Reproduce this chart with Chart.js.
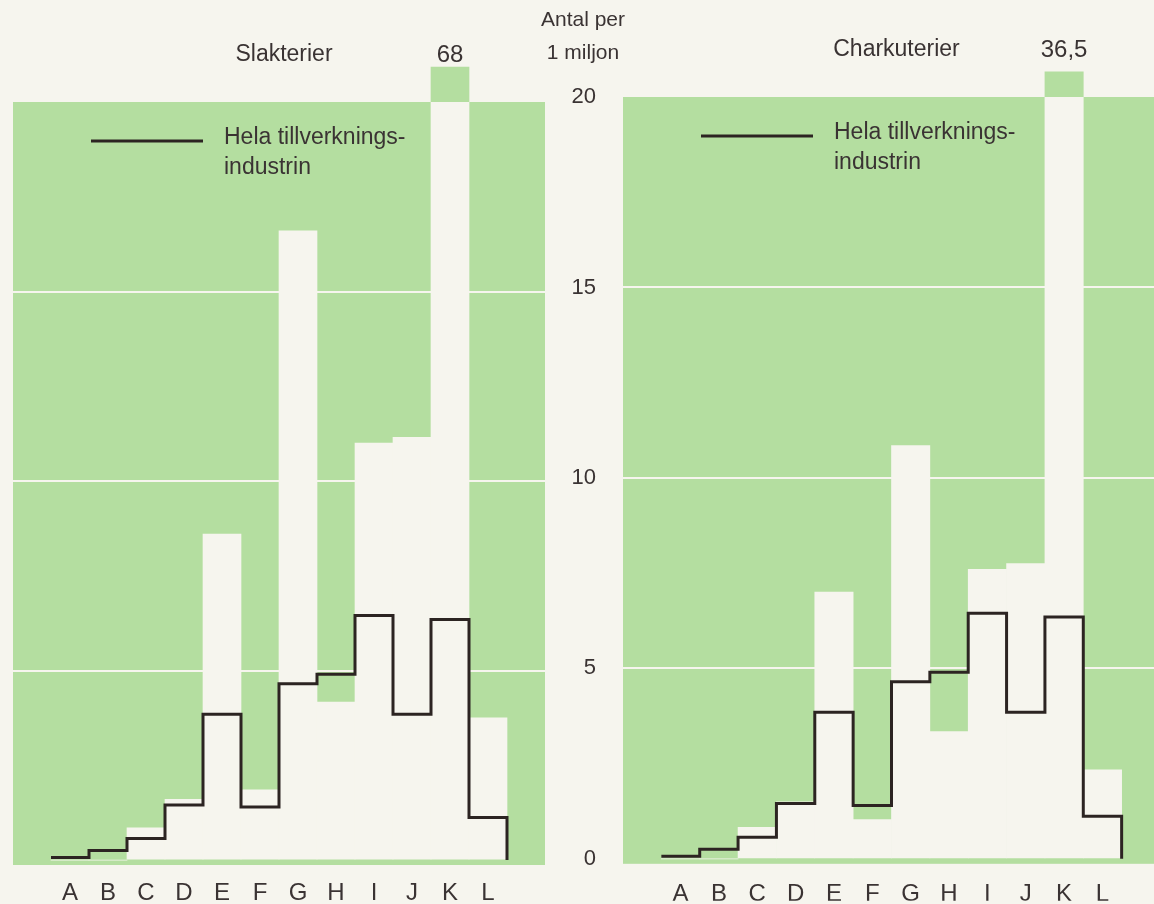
<!DOCTYPE html>
<html lang="sv">
<head>
  <meta charset="UTF-8">
  <title>Slakterier och charkuterier</title>
  <style>
    html, body {
      margin: 0;
      padding: 0;
      background: #f6f5ee;
      overflow: hidden;
    }
    body {
      width: 1154px;
      height: 904px;
      position: relative;
    }
    canvas { position: absolute; top: 0; }
    #leftChart { left: 0; }
    #rightChart { left: 530px; }
  </style>
</head>
<body>
  <canvas id="leftChart" width="560" height="904"></canvas>
  <canvas id="rightChart" width="630" height="904"></canvas>

  <script src="https://cdn.jsdelivr.net/npm/chart.js@4"></script>
  <script>
    // Data (antal per 1 miljon)
    const categories = ['A', 'B', 'C', 'D', 'E', 'F', 'G', 'H', 'I', 'J', 'K', 'L'];
    const slakterier = [0, 0, 0.85, 1.6, 8.6, 1.85, 16.6, 4.17, 11.0, 11.15, 68, 3.75];
    const charkuterier = [0, 0, 0.83, 1.5, 7.0, 1.03, 10.85, 3.34, 7.6, 7.75, 36.5, 2.34];
    const helaIndustrin = [0.07, 0.25, 0.57, 1.45, 3.85, 1.4, 4.65, 4.9, 6.45, 3.85, 6.35, 1.12];
    const yTicks = [0, 5, 10, 15, 20];
    const legendLines = ['Hela tillverknings-', 'industrin'];
    const axisTitle = ['Antal per', '1 miljon'];

    const Y_MIN = -0.13;
    const Y_MAX = 20;

    const paper = '#f6f5ee';
    const green = '#b4dea0';
    const ink = '#3a3333';
    const lineInk = '#2c2422';
    const FONT = '"Liberation Sans", Arial, sans-serif';

    // green panel behind everything, texts on top
    const panelPlugin = {
      id: 'panel',
      beforeDraw(chart) {
        const { ctx, chartArea: a } = chart;
        ctx.save();
        ctx.fillStyle = green;
        ctx.fillRect(a.left, a.top, a.right - a.left, a.bottom - a.top);
        ctx.restore();
      },
      afterDraw(chart, args, opts) {
        const { ctx, chartArea: a } = chart;
        const x = chart.scales.x;
        ctx.save();
        ctx.fillStyle = ink;
        ctx.textBaseline = 'middle';

        // panel title
        ctx.font = `23px ${FONT}`;
        ctx.textAlign = 'center';
        ctx.fillText(opts.title, (a.left + a.right) / 2 + 5, a.top - 47);

        // values that run off the top of the scale
        ctx.font = `24px ${FONT}`;
        opts.values.forEach((v, i) => {
          if (v > Y_MAX) {
            ctx.fillText(String(v).replace('.', ','), x.getPixelForValue(i), a.top - 47);
          }
        });

        // legend inside the panel
        ctx.strokeStyle = lineInk;
        ctx.lineWidth = 3;
        ctx.beginPath();
        ctx.moveTo(a.left + 78, a.top + 39);
        ctx.lineTo(a.left + 190, a.top + 39);
        ctx.stroke();
        ctx.font = `23px ${FONT}`;
        ctx.textAlign = 'left';
        ctx.fillText(legendLines[0], a.left + 211, a.top + 36);
        ctx.fillText(legendLines[1], a.left + 211, a.top + 66);

        // y axis title (only on the right chart)
        if (opts.axisTitle) {
          ctx.font = `21px ${FONT}`;
          ctx.textAlign = 'center';
          ctx.fillText(axisTitle[0], a.left - 40, 20);
          ctx.fillText(axisTitle[1], a.left - 40, 53);
        }
        ctx.restore();
      }
    };

    function makeChart(id, values, title, opts) {
      const barData = values.map((v, i) => ({ x: i, y: v }));
      const stubData = values
        .map((v, i) => (v > Y_MAX ? { x: i, y: [Y_MAX, Y_MAX + opts.stub] } : null))
        .filter(Boolean);
      // step line: each point starts a category, then drop to zero at the end
      const stepData = helaIndustrin.map((v, i) => ({ x: i - 0.5, y: v }));
      stepData.push({ x: categories.length - 0.5, y: 0 });

      return new Chart(document.getElementById(id), {
        data: {
          datasets: [
            {
              type: 'line',
              label: 'Hela tillverkningsindustrin',
              data: stepData,
              stepped: 'before',
              borderColor: lineInk,
              borderWidth: 3,
              pointRadius: 0,
              fill: false,
              order: 0
            },
            {
              type: 'bar',
              label: title,
              data: barData,
              backgroundColor: paper,
              borderWidth: 0,
              barPercentage: 1,
              categoryPercentage: 1,
              grouped: false,
              clip: 0,
              order: 1
            },
            {
              type: 'bar',
              label: title + ' (över skalan)',
              data: stubData,
              backgroundColor: green,
              borderWidth: 0,
              barPercentage: 1,
              categoryPercentage: 1,
              grouped: false,
              clip: false,
              order: 2
            }
          ]
        },
        options: {
          responsive: false,
          animation: false,
          layout: { padding: opts.padding },
          plugins: {
            legend: { display: false },
            tooltip: { enabled: false },
            panel: { title: title, values: values, axisTitle: opts.showAxis }
          },
          scales: {
            x: {
              type: 'linear',
              offset: false,
              min: -1.5,
              max: categories.length + 0.5,
              afterBuildTicks: (s) => { s.ticks = categories.map((c, i) => ({ value: i })); },
              afterFit: (s) => { s.height = opts.xHeight; },
              grid: { display: false, offset: false },
              border: { display: false },
              ticks: {
                autoSkip: false,
                maxRotation: 0,
                padding: opts.xPad,
                color: ink,
                font: { family: FONT, size: 24 },
                callback: (v) => categories[v]
              }
            },
            y: {
              min: Y_MIN,
              max: Y_MAX,
              afterBuildTicks: (s) => { s.ticks = yTicks.map(v => ({ value: v })); },
              afterFit: (s) => { s.width = opts.yWidth; },
              border: { display: false },
              grid: {
                drawTicks: false,
                lineWidth: 2,
                color: (c) => (c.tick && c.tick.value > 0 && c.tick.value < Y_MAX ? paper : 'rgba(0,0,0,0)')
              },
              ticks: {
                display: opts.showAxis,
                padding: 27,
                color: ink,
                font: { family: FONT, size: 22 }
              }
            }
          }
        },
        plugins: [panelPlugin]
      });
    }

    makeChart('leftChart', slakterier, 'Slakterier', {
      padding: { top: 102, left: 13, right: 15, bottom: 0 },
      xHeight: 39,
      xPad: 6,
      yWidth: 0,
      stub: 0.92,
      showAxis: false
    });

    makeChart('rightChart', charkuterier, 'Charkuterier', {
      padding: { top: 97, left: 0, right: 0, bottom: 0 },
      xHeight: 37,
      xPad: 8,
      yWidth: 93,
      stub: 0.66,
      showAxis: true
    });
  </script>
</body>
</html>
